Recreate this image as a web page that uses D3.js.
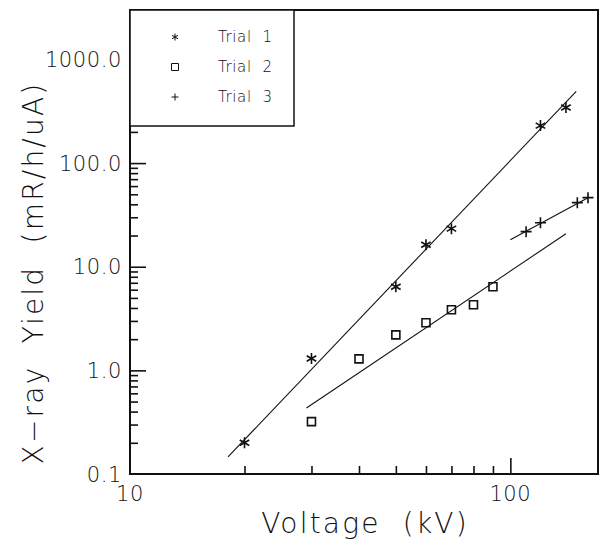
<!DOCTYPE html>
<html>
<head>
<meta charset="utf-8">
<script src="https://cdn.jsdelivr.net/npm/d3@7"></script>
<style>
  html, body { margin: 0; padding: 0; background: #fff; }
  svg { display: block; }
  text { font-family: "DejaVu Sans", sans-serif; font-weight: 200; fill: #111; }
</style>
</head>
<body>
<script>
// Measured X-ray yield vs. tube voltage, three trials
const trial1V = [20, 30, 50, 60, 70, 120, 140];
const trial1Y = [0.2, 1.3, 6.4, 16.3, 23.3, 230, 344];
const trial2V = [30, 40, 50, 60, 70, 80, 90];
const trial2Y = [0.32, 1.29, 2.2, 2.88, 3.84, 4.3, 6.4];
const trial3V = [110, 120, 150, 160];
const trial3Y = [21.8, 26.6, 41.5, 46.4];

// Power-law fit lines, given by their end points [V, yield]
const fit1 = [[18.1, 0.146], [149, 491]];
const fit2 = [[29.1, 0.434], [140, 20.8]];
const fit3 = [[100, 18.2], [160, 46.4]];

const legendLabels = ["Trial  1", "Trial  2", "Trial  3"];
const yTickValues = [0.1, 1, 10, 100, 1000];
const yTickLabels = ["0.1", "1.0", "10.0", "100.0", "1000.0"];
const xTickValues = [10, 100];
const xTickLabels = ["10", "100"];

const W = 600, H = 540;
const m = { left: 130, top: 10, right: 2, bottom: 66 };
const pw = W - m.left - m.right, ph = H - m.top - m.bottom;

const svg = d3.select("body").append("svg").attr("width", W).attr("height", H);
const g = svg.append("g").attr("transform", `translate(${m.left},${m.top})`);

const x = d3.scaleLog().domain([10, 170]).range([0, pw]);
const y = d3.scaleLog().domain([0.1, 3000]).range([ph, 0]);

// minor and major ticks on the inside of the left and bottom axes
const yMinor = [];
[0.1, 1, 10, 100, 1000].forEach(d => { for (let k = 2; k <= 9; k++) { const v = d * k; if (v < 3000) yMinor.push(v); } });
const xMinor = [];
for (let k = 2; k <= 9; k++) xMinor.push(10 * k);

const yAxisMinor = d3.axisRight(y).tickValues(yMinor).tickSize(8).tickFormat("");
const yAxisMajor = d3.axisRight(y).tickValues(yTickValues.slice(1)).tickSize(16).tickFormat("");
const xAxisMinor = d3.axisTop(x).tickValues(xMinor).tickSize(8).tickFormat("");
const xAxisMajor = d3.axisTop(x).tickValues([100]).tickSize(16).tickFormat("");

[g.append("g").call(yAxisMinor), g.append("g").call(yAxisMajor)].forEach(a => {
  a.select(".domain").remove();
  a.selectAll("line").attr("stroke", "#111").attr("stroke-width", 1.6);
});
[g.append("g").attr("transform", `translate(0,${ph})`).call(xAxisMinor),
 g.append("g").attr("transform", `translate(0,${ph})`).call(xAxisMajor)].forEach(a => {
  a.select(".domain").remove();
  a.selectAll("line").attr("stroke", "#111").attr("stroke-width", 1.6);
});

// frame
g.append("rect").attr("x", 0).attr("y", 0).attr("width", pw).attr("height", ph)
  .attr("fill", "none").attr("stroke", "#111").attr("stroke-width", 2);

// tick labels
g.selectAll(".ylab").data(yTickValues).join("text")
  .attr("x", -8).attr("y", d => y(d)).attr("dy", "0.36em")
  .attr("text-anchor", "end").attr("font-size", 21).attr("letter-spacing", 0.6)
  .text((d, i) => yTickLabels[i]);
g.selectAll(".xlab").data(xTickValues).join("text")
  .attr("x", d => x(d)).attr("y", ph + 27)
  .attr("text-anchor", "middle").attr("font-size", 21).attr("letter-spacing", 0.6)
  .text((d, i) => xTickLabels[i]);

// axis titles
svg.append("text").attr("x", m.left + 235).attr("y", 533)
  .attr("text-anchor", "middle").attr("font-size", 28).attr("letter-spacing", 2.2)
  .attr("xml:space", "preserve").text("Voltage  (kV)");
svg.append("text").attr("transform", `translate(43,273) rotate(-90)`)
  .attr("text-anchor", "middle").attr("font-size", 28).attr("letter-spacing", 2.2)
  .attr("xml:space", "preserve").text("X\u2212ray  Yield  (mR/h/uA)");

// fit lines
const line = d3.line().x(d => x(d[0])).y(d => y(d[1]));
[fit1, fit2, fit3].forEach(f => {
  g.append("path").attr("d", line(f)).attr("fill", "none").attr("stroke", "#111").attr("stroke-width", 1.1);
});

// marker shapes
function asterisk(s) {
  const a = s * Math.cos(Math.PI / 6), b = s * Math.sin(Math.PI / 6);
  return `M0,${-s}L0,${s}M${-a},${-b}L${a},${b}M${-a},${b}L${a},${-b}`;
}
function square(s) { return `M${-s},${-s}h${2 * s}v${2 * s}h${-2 * s}Z`; }
function plus(s) { return `M${-s},0h${2 * s}M0,${-s}v${2 * s}`; }

const series = [
  { v: trial1V, yv: trial1Y, shape: asterisk, size: 5.5 },
  { v: trial2V, yv: trial2Y, shape: square, size: 4 },
  { v: trial3V, yv: trial3Y, shape: plus, size: 5.5 }
];
series.forEach(s => {
  g.append("g").selectAll("path").data(s.v).join("path")
    .attr("transform", (d, i) => `translate(${x(d)},${y(s.yv[i])})`)
    .attr("d", s.shape(s.size))
    .attr("fill", "none").attr("stroke", "#111").attr("stroke-width", 1.6);
});

// legend
const lg = g.append("g");
lg.append("rect").attr("x", 0).attr("y", 0).attr("width", 164).attr("height", 116)
  .attr("fill", "#fff").attr("stroke", "#111").attr("stroke-width", 1.5);
legendLabels.forEach((lab, i) => {
  const cy = 27 + i * 30;
  lg.append("path").attr("transform", `translate(45,${cy})`)
    .attr("d", series[i].shape(3.5))
    .attr("fill", "none").attr("stroke", "#111").attr("stroke-width", 1);
  lg.append("text").attr("x", 88).attr("y", cy).attr("dy", "0.36em")
    .attr("font-size", 15).attr("letter-spacing", 0.6)
    .attr("xml:space", "preserve").text(lab);
});
</script>
</body>
</html>
